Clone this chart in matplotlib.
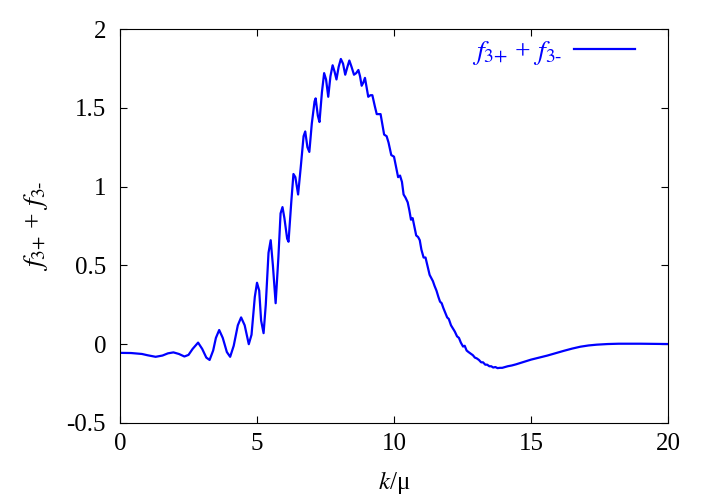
import matplotlib
matplotlib.use("Agg")
import matplotlib.pyplot as plt

plt.rcParams['font.family'] = ['Liberation Serif', 'DejaVu Serif']
plt.rcParams['mathtext.fontset'] = 'stix'

# values
k = [0.0, 0.4, 0.8, 1.0, 1.3, 1.55, 1.75, 1.95, 2.15, 2.35, 2.5, 2.65, 2.85, 3.0, 3.15, 3.27,
     3.4, 3.5, 3.62, 3.75, 3.9, 4.02, 4.15, 4.3, 4.42, 4.55, 4.7, 4.8, 4.92, 5.0, 5.08, 5.15,
     5.24, 5.32, 5.42, 5.5, 5.58, 5.68, 5.78, 5.86, 5.93, 6.0, 6.1, 6.15, 6.25, 6.33, 6.4, 6.5,
     6.6, 6.7, 6.76, 6.84, 6.91, 7.0, 7.1, 7.14, 7.22, 7.28, 7.37, 7.45, 7.52, 7.6, 7.68, 7.76,
     7.83, 7.9, 7.98, 8.06, 8.14, 8.22, 8.3, 8.37, 8.45, 8.54, 8.62, 8.7, 8.76, 8.82, 8.88, 8.94,
     9.0, 9.06, 9.14, 9.21, 9.3, 9.37, 9.45, 9.51, 9.58, 9.64, 9.73, 9.8, 9.9, 10.0, 10.07, 10.15,
     10.22, 10.29, 10.35, 10.42, 10.5, 10.56, 10.62, 10.68, 10.74, 10.81, 10.88, 10.94, 11.0,
     11.08, 11.15, 11.22, 11.3, 11.36, 11.42, 11.48, 11.55, 11.62, 11.68, 11.74, 11.8, 11.87,
     11.94, 12.0, 12.08, 12.15, 12.22, 12.3, 12.37, 12.44, 12.52, 12.58, 12.65, 12.72, 12.8,
     12.88, 12.95, 13.02, 13.1, 13.18, 13.25, 13.33, 13.4, 13.48, 13.55, 13.62, 13.7, 13.78,
     13.86, 13.95, 14.05, 14.15, 14.3, 14.45, 14.6, 14.8, 15.0, 15.3, 15.6, 15.9, 16.2, 16.5,
     16.8, 17.1, 17.4, 17.8, 18.2, 18.6, 19.0, 19.5, 20.0]
f3 = [-0.055, -0.056, -0.062, -0.070, -0.080, -0.072, -0.058, -0.052, -0.062, -0.078, -0.068,
      -0.030, 0.010, -0.030, -0.085, -0.100, -0.040, 0.040, 0.090, 0.040, -0.050, -0.080,
      -0.010, 0.120, 0.170, 0.120, 0.000, 0.060, 0.300, 0.390, 0.340, 0.150, 0.070, 0.250,
      0.580, 0.660, 0.500, 0.260, 0.550, 0.830, 0.870, 0.800, 0.670, 0.650, 0.900, 1.080,
      1.060, 0.950, 1.130, 1.320, 1.350, 1.250, 1.220, 1.400, 1.540, 1.560, 1.450, 1.410,
      1.600, 1.720, 1.680, 1.570, 1.700, 1.770, 1.730, 1.680, 1.760, 1.810, 1.780, 1.710,
      1.760, 1.800, 1.760, 1.710, 1.720, 1.740, 1.700, 1.640, 1.660, 1.690, 1.630, 1.570,
      1.580, 1.580, 1.510, 1.460, 1.460, 1.460, 1.390, 1.330, 1.320, 1.280, 1.200, 1.190,
      1.130, 1.060, 1.070, 1.030, 0.950, 0.930, 0.900, 0.850, 0.790, 0.800, 0.750, 0.690,
      0.680, 0.660, 0.600, 0.550, 0.550, 0.500, 0.440, 0.420, 0.400, 0.370, 0.340, 0.300,
      0.270, 0.260, 0.230, 0.200, 0.170, 0.160, 0.120, 0.100, 0.080, 0.050, 0.040, 0.010,
      -0.015, -0.010, -0.040, -0.050, -0.060, -0.070, -0.085, -0.090, -0.100, -0.115, -0.115,
      -0.130, -0.130, -0.140, -0.140, -0.148, -0.145, -0.152, -0.150, -0.150, -0.145, -0.140,
      -0.135, -0.128, -0.120, -0.110, -0.098, -0.085, -0.072, -0.057, -0.042, -0.028, -0.016,
      -0.008, -0.003, 0.001, 0.003, 0.003, 0.003, 0.002, 0.001]

xticks = [0, 5, 10, 15, 20]
yticks = [-0.5, 0, 0.5, 1, 1.5, 2]
ytick_labels = ['-0.5', '0', '0.5', '1', '1.5', '2']
label = r'$f_{\text{3+}}$ + $f_{\text{3-}}$'

fig = plt.figure(figsize=(7.08, 4.96), dpi=100)
ax = fig.add_axes([0.1695, 0.1472, 0.774, 0.7943])

ax.plot(k, f3, color='#0000ff', lw=1.6, label=label)

ax.set_xlim(0, 20)
ax.set_ylim(-0.5, 2)
ax.set_xticks(xticks)
ax.set_xticklabels([str(t) for t in xticks])
ax.set_yticks(yticks)
ax.set_yticklabels(ytick_labels)
ax.tick_params(direction='in', top=True, right=True, length=5, width=0.8,
               labelsize=18, pad=7)
ax.tick_params(axis='y', pad=10)
for s in ax.spines.values():
    s.set_linewidth(0.8)

ax.set_xlabel(r'$k$/μ', fontsize=18, labelpad=10)
ax.set_ylabel(label, fontsize=20, labelpad=12)

ax.legend(loc='upper right', frameon=False, markerfirst=False, fontsize=20,
          labelcolor='#0000ff', handlelength=2.2, handletextpad=0.4,
          borderaxespad=0.3, bbox_to_anchor=(0.975, 1.025))

fig.savefig('out.png', dpi=100)
